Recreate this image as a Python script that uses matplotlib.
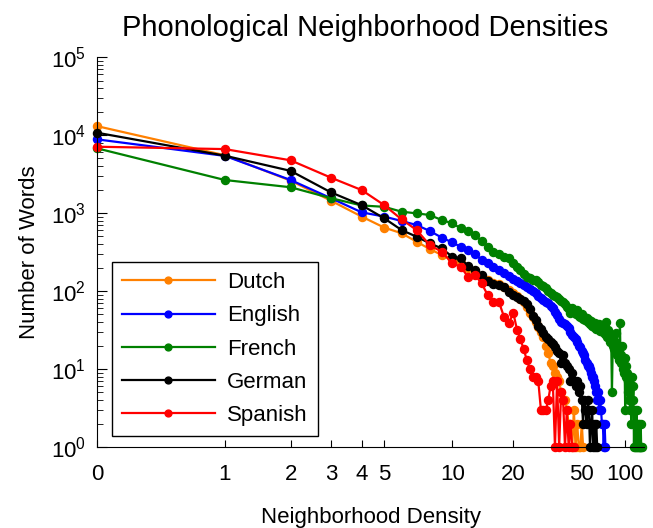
import numpy as np
import matplotlib
matplotlib.use("Agg")
import matplotlib.pyplot as plt

plt.rcParams['font.family'] = ['Liberation Sans', 'DejaVu Sans']
plt.rcParams['mathtext.default'] = 'regular'

# word counts per neighborhood density (index = density 0, 1, 2, ...)
dutch = [13000, 5500, 2600, 1440, 900, 650, 550, 429, 345, 290,
         255, 230, 200, 175, 150, 140, 128, 122, 112, 103,
         94, 86, 80, 72, 62, 52, 47, 40, 35, 30,
         26, 20, 16, 12, 11, 9, 8, 7, 5, 4,
         4, 3, 2, 2, 1, 3, 1, 2, 1, 1,
         2, 1]
english = [8800, 5400, 2650, 1550, 1020, 900, 790, 702, 588, 485,
           419, 370, 331, 295, 253, 229, 205, 186, 170, 155,
           143, 134, 126, 119, 113, 106, 100, 93, 86, 81,
           77, 73, 70, 64, 60, 54, 49, 44, 40, 39,
           38, 36, 34, 30, 27, 26, 24, 22, 20, 19,
           17, 16, 15, 13, 12, 11, 11, 10, 9, 8,
           8, 7, 6, 5, 4, 5, 3, 4, 3, 2,
           2, 1, 2, 1]
french = [6750, 2650, 2140, 1550, 1250, 1200, 1040, 990, 943, 813,
          738, 640, 593, 520, 440, 370, 320, 295, 275, 263,
          226, 205, 186, 165, 152, 145, 140, 138, 132, 120,
          115, 108, 100, 95, 89, 87, 85, 80, 75, 72,
          69, 63, 58, 52, 60, 55, 50, 57, 48, 46,
          50, 44, 47, 42, 45, 40, 42, 38, 41, 36,
          39, 35, 39, 33, 37, 34, 38, 31, 36, 37,
          30, 33, 35, 28, 40, 26, 32, 25, 28, 22,
          24, 5, 20, 24, 18, 22, 16, 29, 15, 19,
          13, 17, 39, 12, 15, 20, 10, 12, 9, 14,
          3, 11, 8, 9, 5, 7, 4, 6, 3, 8,
          2, 8, 3, 4, 6, 1, 3, 1, 2, 1,
          3, 1, 2, 1, 1, 2, 1, 1, 2, 1,
          1]
german = [10700, 5430, 3470, 1840, 1260, 855, 605, 497, 409, 352,
          275, 263, 209, 186, 160, 134, 123, 119, 113, 97,
          89, 84, 79, 74, 68, 58, 48, 42, 36, 33,
          29, 26, 24, 22, 21, 19, 17, 16, 12, 15,
          12, 11, 10, 7, 9, 7, 6, 7, 5, 6,
          4, 2, 4, 3, 2, 4, 3, 1, 2, 3,
          1, 2, 1, 2, 1]
spanish = [7080, 6600, 4740, 2840, 1970, 1260, 830, 605, 388, 319,
           226, 205, 152, 160, 125, 89, 73, 73, 47, 39,
           52, 32, 24, 18, 13, 10, 8, 8, 7, 3,
           3, 3, 4, 6, 7, 1, 7, 1, 5, 4,
           1, 3, 1, 2, 1, 1]

languages = ['Dutch', 'English', 'French', 'German', 'Spanish']
series = [dutch, english, french, german, spanish]
colors = ['#FF8000', '#0000FF', '#008000', '#000000', '#FF0000']

xticks = [0, 1, 2, 3, 4, 5, 10, 20, 50, 100]

# x axis is a compressed, log-like scale; knots for the scale mapping
knot_vals = np.log1p([0, 1, 2, 3, 4, 5, 10, 20, 50, 100, 150])
knot_pos = np.array([0, 127.7, 193.4, 233.7, 264.4, 287, 355, 416, 484.4, 527.7, 553.2])


def fwd(x):
    x = np.asarray(x, dtype=float)
    return np.interp(np.log1p(np.clip(x, 0, None)), knot_vals, knot_pos)


def inv(p):
    p = np.asarray(p, dtype=float)
    return np.expm1(np.interp(p, knot_pos, knot_vals))


fig = plt.figure(figsize=(6.53, 5.28), dpi=100)
ax = fig.add_axes([0.1486, 0.1534, 0.8377, 0.7386])

for name, counts, c in zip(languages, series, colors):
    ax.plot(np.arange(len(counts)), counts, '-o', color=c, lw=1.6, ms=5.8,
            label=name, clip_on=False)

ax.set_xscale('function', functions=(fwd, inv))
ax.set_yscale('log')
ax.set_xlim(0, 135)
ax.set_ylim(1, 1e5)
ax.set_xticks(xticks)
ax.set_xticklabels([str(t) for t in xticks])
ax.xaxis.set_minor_locator(matplotlib.ticker.NullLocator())

ax.spines['top'].set_visible(False)
ax.spines['right'].set_visible(False)
ax.tick_params(axis='both', which='both', direction='in', labelsize=16)
ax.tick_params(axis='x', which='major', length=5, pad=12)
ax.tick_params(axis='y', which='major', length=7, pad=8)
ax.tick_params(axis='y', which='minor', length=4)

ax.set_title('Phonological Neighborhood Densities', fontsize=21, pad=15, x=0.49)
ax.set_xlabel('Neighborhood Density', fontsize=16, labelpad=16)
ax.set_ylabel('Number of Words', fontsize=16, labelpad=8)

leg = ax.legend(loc='lower left', bbox_to_anchor=(0.027, 0.028), borderaxespad=0,
                fontsize=16, handlelength=4.2, handletextpad=0.55, labelspacing=0.55,
                numpoints=1, markerscale=0.85, fancybox=False, framealpha=1,
                borderpad=0.45)
leg.get_frame().set_edgecolor('black')
leg.get_frame().set_linewidth(1.0)

fig.savefig('out.png', dpi=100)
